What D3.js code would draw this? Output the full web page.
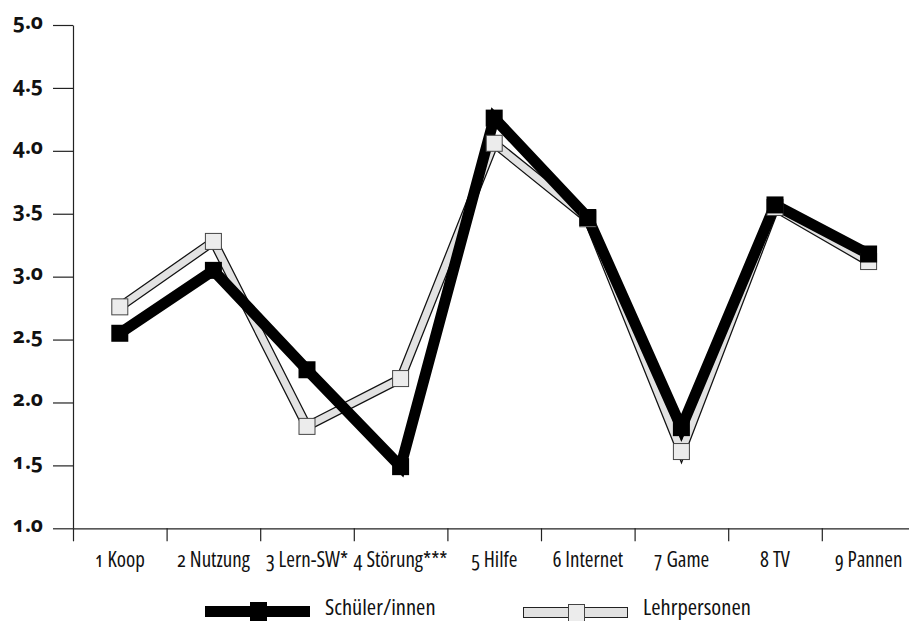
<!DOCTYPE html>
<html><head><meta charset="utf-8">
<script src="https://cdn.jsdelivr.net/npm/d3@7"></script>
<style>
body{margin:0;background:#fff;}
svg{display:block;}
text{font-family:"Open Sans","Noto Sans",sans-serif;fill:#111;}
.cat{font-size:21px;font-stretch:75%;font-variant-numeric:oldstyle-nums;font-feature-settings:"onum" 1;}
.ytick{font-size:21px;font-weight:700;font-variant-numeric:oldstyle-nums;font-feature-settings:"onum" 1;}
.leg{font-size:22.5px;font-stretch:75%;}
</style></head>
<body><svg id="c" width="909" height="621"></svg>
<script>
const categories = ["1 Koop","2 Nutzung","3 Lern-SW*","4 Störung***","5 Hilfe","6 Internet","7 Game","8 TV","9 Pannen"];
const schueler = [2.55,3.05,2.26,1.49,4.26,3.47,1.80,3.57,3.18];
const lehrer = [2.76,3.28,1.81,2.19,4.06,3.46,1.61,3.55,3.12];
const yTicks = [1.0,1.5,2.0,2.5,3.0,3.5,4.0,4.5,5.0];
const seriesNames = ["Schüler/innen","Lehrpersonen"];

const svg = d3.select("#c");
const x = d3.scaleLinear().domain([0, categories.length]).range([73, 915.4]);
const y = d3.scaleLinear().domain([1, 5]).range([528.3, 25]);

// y axis
const ya = svg.append("g").attr("transform","translate(73,0)")
  .call(d3.axisLeft(y).tickValues(yTicks).tickSizeInner(20).tickSizeOuter(0).tickFormat(d3.format(".1f")));
ya.selectAll("path,line").attr("stroke","#222").attr("stroke-width",1.2);
ya.selectAll("text").attr("class","ytick").attr("x",-30).attr("dy","0.15em");
ya.attr("font-family",null).attr("font-size",null);

// x axis
const xa = svg.append("g").attr("transform","translate(0,528.3)")
  .call(d3.axisBottom(x).tickValues(d3.range(0, categories.length+1)).tickSizeInner(13).tickSizeOuter(0).tickFormat(""));
xa.selectAll("path,line").attr("stroke","#222").attr("stroke-width",1.2);

svg.append("g").selectAll("text").data(categories).join("text")
  .attr("class","cat").attr("x",(d,i)=>x(i+0.5)).attr("y",567).attr("text-anchor","middle").text(d=>d);

const line = d3.line().x((d,i)=>x(i+0.5)).y(d=>y(d));
// Lehrpersonen line (outlined grey)
svg.append("path").datum(lehrer).attr("d",line).attr("fill","none").attr("stroke","#111").attr("stroke-width",9.5).attr("stroke-linejoin","miter");
svg.append("path").datum(lehrer).attr("d",line).attr("fill","none").attr("stroke","#e2e2e2").attr("stroke-width",7).attr("stroke-linejoin","miter");
// Schüler line
svg.append("path").datum(schueler).attr("d",line).attr("fill","none").attr("stroke","#000").attr("stroke-width",11).attr("stroke-linejoin","miter");
// markers
const ms = 16;
svg.append("g").selectAll("rect").data(lehrer).join("rect")
  .attr("x",(d,i)=>x(i+0.5)-ms/2).attr("y",d=>y(d)-ms/2).attr("width",ms).attr("height",ms)
  .attr("fill","#ececec").attr("stroke","#444").attr("stroke-width",1);
svg.append("g").selectAll("rect").data(schueler).join("rect")
  .attr("x",(d,i)=>x(i+0.5)-ms/2-0.5).attr("y",d=>y(d)-ms/2-0.5).attr("width",ms+1).attr("height",ms+1)
  .attr("fill","#000");

// legend
const lg = svg.append("g");
lg.append("rect").attr("x",205).attr("y",606).attr("width",105).attr("height",11).attr("fill","#000");
lg.append("rect").attr("x",250).attr("y",602).attr("width",17).attr("height",19).attr("fill","#000");
lg.append("text").attr("class","leg").attr("x",325).attr("y",615).text(seriesNames[0]);
lg.append("rect").attr("x",523.5).attr("y",607.5).attr("width",104).attr("height",10).attr("fill","#e2e2e2").attr("stroke","#222").attr("stroke-width",1);
lg.append("rect").attr("x",568.5).attr("y",604.5).attr("width",16).attr("height",17).attr("fill","#ececec").attr("stroke","#444").attr("stroke-width",1);
lg.append("text").attr("class","leg").attr("x",643).attr("y",615).text(seriesNames[1]);
</script></body></html>
